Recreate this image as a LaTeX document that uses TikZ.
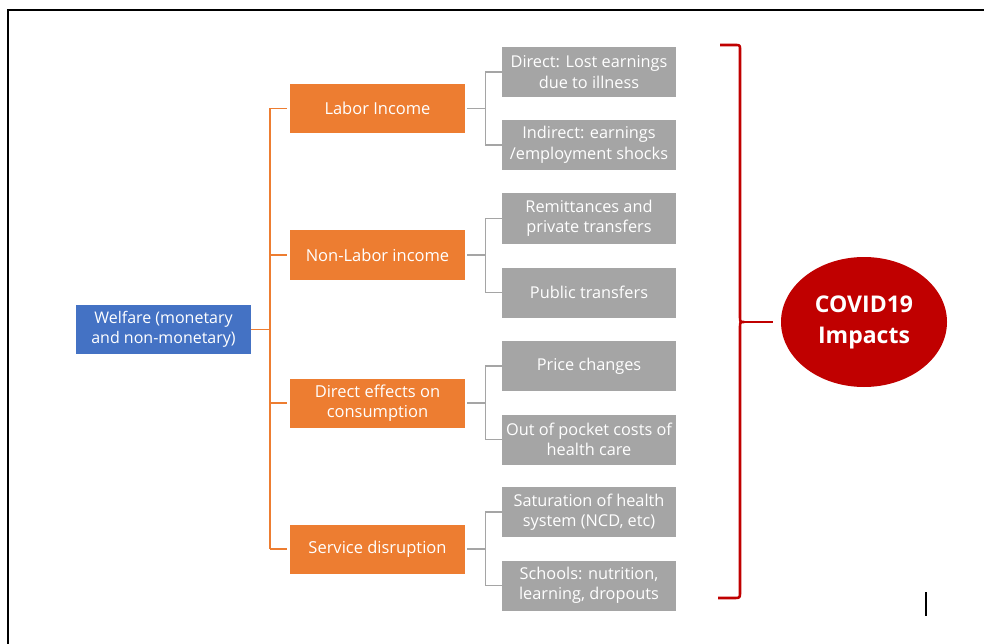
\documentclass[tikz,border=0pt]{standalone}
\usepackage{fontspec}
\setmainfont{Open Sans}
\usetikzlibrary{shapes.geometric, arrows, positioning}
\definecolor{welfareblue}{HTML}{4472C4}
\definecolor{incomeorange}{HTML}{ED7D31}
\definecolor{channelgray}{HTML}{A5A5A5}
\definecolor{covidred}{HTML}{C00000}

\begin{document}
\begin{tikzpicture}[x=1pt, y=-1pt]
\tikzstyle{welfare} = [rectangle, minimum width=175pt, minimum height=49pt, inner sep=1pt, text centered, align=center, fill=welfareblue, text=white, font=\fontsize{16}{20.5}\selectfont]
\tikzstyle{branch} = [rectangle, minimum width=175pt, minimum height=49pt, inner sep=1pt, text centered, align=center, fill=incomeorange, text=white, font=\fontsize{16.5}{20.5}\selectfont]
\tikzstyle{channel} = [rectangle, minimum width=174pt, minimum height=50pt, inner sep=0pt, text centered, align=center, fill=channelgray, text=white, font=\fontsize{16.3}{20.5}\selectfont]
\tikzstyle{orangeline} = [incomeorange, line width=1.5pt]
\tikzstyle{grayline} = [channelgray, line width=1.4pt]

\useasboundingbox (0,0) rectangle (984,644);
\draw[line width=2.5pt] (8,644) -- (8,10) -- (984,10);

\node (welfare) [welfare] at (163.5,329.5) {Welfare (monetary\\and non-monetary)};

\node (labor) [branch] at (377.5,108.5) {Labor Income};
\node (nonlabor) [branch] at (377.5,255) {Non-Labor income};
\node (consump) [branch] at (377.5,403) {Direct effects on\\consumption};
\node (service) [branch] at (377.5,549) {Service disruption};

\node (direct) [channel] at (589,72) {Direct: Lost earnings\\due to illness};
\node (indirect) [channel] at (589,145) {Indirect: earnings\\/employment shocks};
\node (remit) [channel] at (589,218.5) {Remittances and\\private transfers};
\node (public) [channel] at (589,292.5) {Public transfers};
\node (price) [channel] at (589,366) {Price changes};
\node (pocket) [channel] at (589,439.5) {Out of pocket costs of\\health care};
\node (saturation) [channel] at (589,512) {Saturation of health\\system (NCD, etc)};
\node (schools) [channel] at (589,585.5) {Schools: nutrition,\\learning, dropouts};

\node (covid) [ellipse, fill=covidred, text=white, minimum width=166pt, minimum height=130pt, align=center, font=\bfseries\fontsize{23}{31}\selectfont] at (864,322) {COVID19\\Impacts};

% welfare to the four branches
\coordinate (spine) at (270,0);
\draw[orangeline] (welfare.east) -- (welfare.east -| spine);
\draw[orangeline] (spine |- labor.west) -- (spine |- service.west);
\foreach \b in {labor, nonlabor, consump, service}
  \draw[orangeline, shorten >=3pt] (spine |- \b.west) -- (\b.west);

% branches to channels
\foreach \p/\c in {labor/direct, labor/indirect, nonlabor/remit, nonlabor/public, consump/price, consump/pocket, service/saturation, service/schools}
  \draw[grayline, shorten <=2pt] (\p.east) -- ++(20,0) |- (\c.west);

% brace
\coordinate (tip) at (744,322);
\draw[covidred, line width=2.6pt, line join=round] (720,45) -- (735,45) .. controls (740,45) .. (740,50) -- (740,316) .. controls (740,322) .. (tip) .. controls (740,322) .. (740,328) -- (740,592) .. controls (740,598) .. (734,598) -- (718,598);
\draw[covidred, line width=2.6pt, shorten >=8pt] (tip) -- (covid.west);

\draw[line width=2pt] (926,592) -- (926,616);
\end{tikzpicture}
\end{document}
